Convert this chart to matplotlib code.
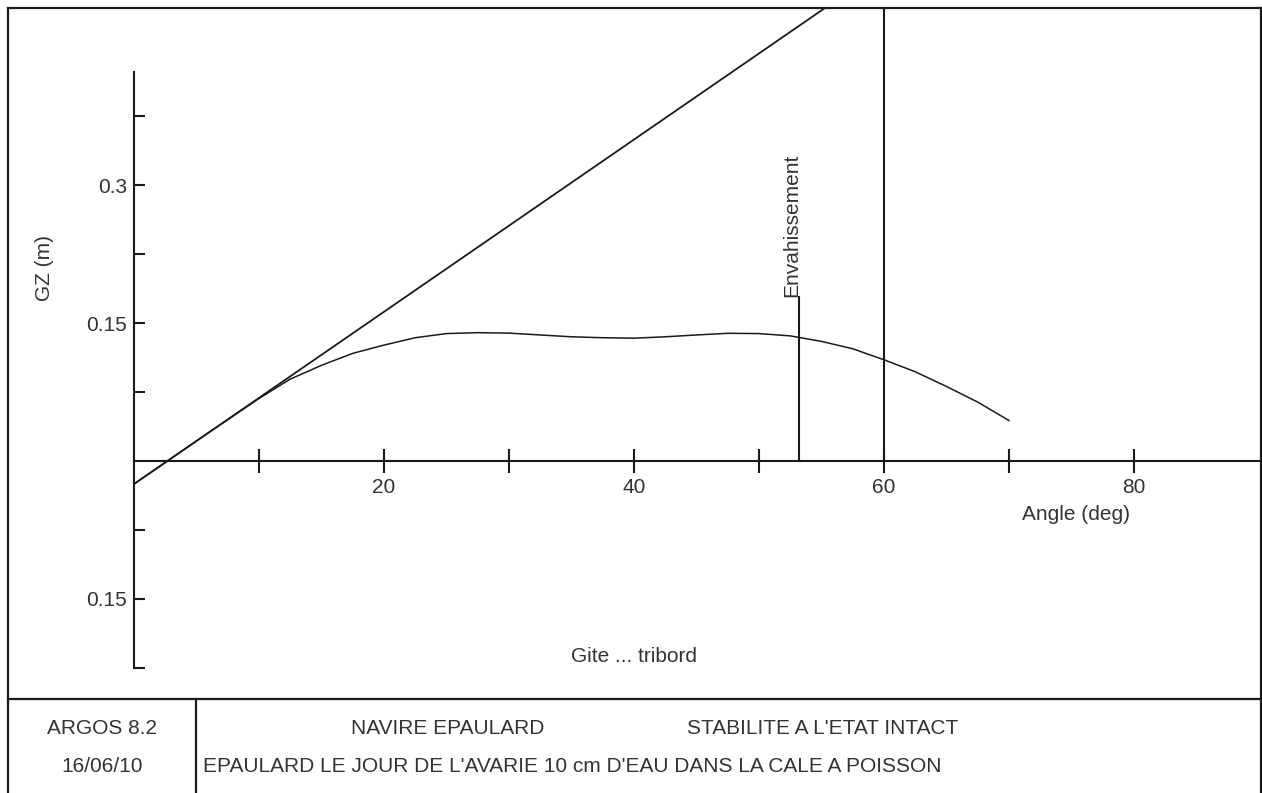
import numpy as np
import matplotlib
matplotlib.use("Agg")
import matplotlib.pyplot as plt
from matplotlib.lines import Line2D

plt.rcParams["font.family"] = ["Liberation Sans", "DejaVu Sans"]
plt.rcParams["font.size"] = 15

# ── data ────────────────────────────────────────────────
angle = [0, 5, 10, 12.5, 15, 17.5, 20, 22.5, 25, 27.5, 30, 32.5, 35, 37.5,
         40, 42.5, 45, 47.5, 50, 52.5, 55, 57.5, 60, 62.5, 65, 67.5, 70]
gz    = [-0.025, 0.0218, 0.068, 0.089, 0.104, 0.117, 0.126, 0.134, 0.1385,
         0.1395, 0.139, 0.137, 0.135, 0.134, 0.1335, 0.135, 0.137, 0.1388,
         0.1385, 0.136, 0.130, 0.122, 0.110, 0.097, 0.081, 0.064, 0.044]

tangent_angle = [0, 60]
tangent_gz    = [-0.025, 0.5366]

FLOOD_ANGLE  = 53.2     # Envahissement
FLOOD_TOP    = 0.178
LIMIT_ANGLE  = 60

X_TICKS       = [10, 20, 30, 40, 50, 60, 70, 80]
X_TICK_LABELS = ["", "20", "", "40", "", "60", "", "80"]
Y_TICKS       = [-0.225, -0.15, -0.075, 0.075, 0.15, 0.225, 0.3, 0.375]
Y_TICK_LABELS = ["", "0.15", "", "", "0.15", "", "0.3", ""]

LINE = "#1a1a1a"
TXT  = "#333333"

W, H = 1262, 793
fig = plt.figure(figsize=(W / 100, H / 100), dpi=100)

def fx(px): return px / W
def fy(py): return 1 - py / H

# ── zone graphique ──────────────────────────────────────
ax = fig.add_axes([fx(8), fy(699), fx(1261) - fx(8), fy(8) - fy(699)])
XLIM = (-10.08, 90.16)
YLIM = (-0.2587, 0.4924)
ax.set_xlim(*XLIM)
ax.set_ylim(*YLIM)
ax.patch.set_alpha(0)

for s in ["top", "right"]:
    ax.spines[s].set_visible(False)
ax.spines["left"].set_position(("data", 0))
ax.spines["bottom"].set_position(("data", 0))
ax.spines["left"].set_bounds(-0.225, 0.423)
ax.spines["bottom"].set_bounds(0, XLIM[1])
for s in ["left", "bottom"]:
    ax.spines[s].set_linewidth(1.5)
    ax.spines[s].set_color(LINE)

ax.set_xticks(X_TICKS)
ax.set_xticklabels(X_TICK_LABELS)
ax.set_yticks(Y_TICKS)
ax.set_yticklabels(Y_TICK_LABELS)
ax.tick_params(axis="x", direction="inout", length=17, width=1.5,
               color=LINE, labelcolor=TXT, pad=4)
ax.tick_params(axis="y", direction="in", length=8, width=1.5,
               color=LINE, labelcolor=TXT, pad=5)

# courbe GZ + tangente
ax.plot(angle, gz, color=LINE, lw=1.1)
ax.plot(tangent_angle, tangent_gz, color=LINE, lw=1.3)

# angle limite
y0 = (0 - YLIM[0]) / (YLIM[1] - YLIM[0])
ax.axvline(LIMIT_ANGLE, ymin=y0, ymax=1, color=LINE, lw=1.5)

# envahissement
ax.plot([FLOOD_ANGLE, FLOOD_ANGLE], [0, FLOOD_TOP], color=LINE, lw=1.5)
ax.text(FLOOD_ANGLE - 0.55, FLOOD_TOP, "Envahissement", rotation=90,
        ha="center", va="bottom", color=TXT)

# ── textes ──────────────────────────────────────────────
fig.text(fx(45), fy(268), "GZ (m)", rotation=90, ha="center", va="center",
         color=TXT)
fig.text(fx(634), fy(657), "Gite ... tribord", ha="center", va="center",
         color=TXT)
fig.text(fx(1076), fy(514), "Angle (deg)", ha="center", va="center",
         color=TXT)

# ── cadre + cartouche ───────────────────────────────────
frame = [
    ([8, 1261], [8, 8]),
    ([8, 8], [8, 793]),
    ([1261, 1261], [8, 793]),
    ([8, 1261], [699, 699]),
    ([196, 196], [699, 793]),
]
for xs, ys in frame:
    fig.add_artist(Line2D([fx(v) for v in xs], [fy(v) for v in ys],
                          transform=fig.transFigure, color=LINE, lw=1.6))

fig.text(fx(102), fy(728), "ARGOS 8.2", ha="center", va="center", color=TXT)
fig.text(fx(102), fy(767), "16/06/10", ha="center", va="center", color=TXT)
fig.text(fx(448), fy(729), "NAVIRE EPAULARD", ha="center", va="center",
         color=TXT)
fig.text(fx(823), fy(729), "STABILITE A L'ETAT INTACT", ha="center",
         va="center", color=TXT)
fig.text(fx(203), fy(767),
         "EPAULARD LE JOUR DE L'AVARIE 10 cm D'EAU DANS LA CALE A POISSON",
         ha="left", va="center", color=TXT)

fig.savefig("out.png", dpi=100)
